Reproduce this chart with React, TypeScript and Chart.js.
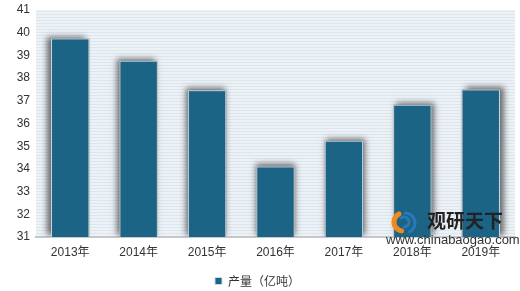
import React, { useEffect, useRef } from "react";
import { Chart, registerables } from "chart.js";

Chart.register(...registerables);

const categories = ["2013年", "2014年", "2015年", "2016年", "2017年", "2018年", "2019年"];
const production = [39.74, 38.76, 37.47, 34.11, 35.24, 36.83, 37.5];
const seriesName = "产量（亿吨）";
const yMin = 31;
const yMax = 41;
const yStep = 1;

const stripePlugin = {
  id: "stripes",
  beforeDraw(chart: any) {
    const { ctx, chartArea } = chart;
    if (!chartArea) return;
    const pc = document.createElement("canvas");
    pc.width = 1;
    pc.height = 3;
    const p = pc.getContext("2d")!;
    p.fillStyle = "#edf2f7";
    p.fillRect(0, 0, 1, 3);
    p.fillStyle = "#dde5ed";
    p.fillRect(0, 2, 1, 1);
    const pattern = ctx.createPattern(pc, "repeat");
    ctx.save();
    ctx.fillStyle = pattern;
    ctx.fillRect(chartArea.left, chartArea.top, chartArea.right - chartArea.left, chartArea.bottom - chartArea.top);
    ctx.restore();
  },
};

const shadowPlugin = {
  id: "barShadow",
  beforeDatasetsDraw(chart: any) {
    const { ctx, chartArea } = chart;
    const meta = chart.getDatasetMeta(0);
    const mid = (chartArea.left + chartArea.right) / 2;
    const half = (chartArea.right - chartArea.left) / 2;
    ctx.save();
    ctx.beginPath();
    ctx.rect(chartArea.left, chartArea.top - 10, chartArea.right - chartArea.left + 10, chartArea.bottom - chartArea.top + 10);
    ctx.clip();
    meta.data.forEach((bar: any) => {
      const w = bar.width;
      const off = ((bar.x - mid) / half) * 5;
      const bottom = Math.min(bar.base, chartArea.bottom);
      ctx.shadowColor = "rgba(60,60,60,0.75)";
      ctx.shadowBlur = 6;
      ctx.shadowOffsetX = off;
      ctx.shadowOffsetY = -2;
      ctx.fillStyle = "#9a9a9a";
      ctx.fillRect(bar.x - w / 2, bar.y, w, bottom - bar.y);
    });
    ctx.restore();
  },
};

const watermarkPlugin = {
  id: "watermark",
  afterDraw(chart: any) {
    const { ctx } = chart;
    ctx.save();
    const cx = 401, cy = 221;
    ctx.lineCap = "round";
    ctx.strokeStyle = "#f08a1c";
    ctx.lineWidth = 5;
    ctx.beginPath();
    ctx.arc(cx + 2, cy + 1, 9, Math.PI * 0.55, Math.PI * 1.35);
    ctx.stroke();
    ctx.strokeStyle = "#2a78b8";
    ctx.lineWidth = 3;
    ctx.beginPath();
    ctx.arc(cx + 4, cy + 2, 10, Math.PI * 1.5, Math.PI * 0.35);
    ctx.stroke();
    ctx.beginPath();
    ctx.arc(cx + 3, cy + 1, 5, Math.PI * 1.3, Math.PI * 0.5);
    ctx.stroke();
    ctx.fillStyle = "#222";
    ctx.font = "bold 19px 'Noto Sans CJK SC', sans-serif";
    ctx.textAlign = "left";
    ctx.textBaseline = "middle";
    ctx.fillText("观研天下", 427, 221);
    ctx.font = "13px 'Liberation Sans', Arial, sans-serif";
    ctx.fillStyle = "#333";
    ctx.fillText("www.chinabaogao.com", 386, 240);
    ctx.restore();
  },
};

export default function App() {
  const ref = useRef<HTMLCanvasElement>(null);
  useEffect(() => {
    const chart = new Chart(ref.current!, {
      type: "bar",
      data: {
        labels: categories,
        datasets: [
          {
            label: seriesName,
            data: production,
            backgroundColor: "#1b6485",
            borderColor: "#c9dbe6",
            borderWidth: 1,
            barPercentage: 0.56,
            categoryPercentage: 1,
          },
        ],
      },
      options: {
        animation: false,
        responsive: false,
        maintainAspectRatio: false,
        layout: { padding: { left: 0, right: 5, top: 10, bottom: -6 } },
        scales: {
          x: {
            grid: { display: false, drawTicks: false },
            border: { display: true, color: "#c4c8cc", width: 2 },
            ticks: {
              color: "#333",
              font: { size: 12, family: "'Liberation Sans', 'Noto Sans CJK SC', sans-serif" },
              padding: 8,
              maxRotation: 0,
            },
            afterFit(scale: any) {
              scale.height = 34;
            },
          },
          y: {
            min: yMin,
            max: yMax,
            grid: { display: false, drawTicks: false },
            border: { display: false },
            ticks: {
              stepSize: yStep,
              color: "#333",
              font: { size: 12, family: "'Liberation Sans', sans-serif" },
              padding: 6,
            },
            afterFit(scale: any) {
              scale.width = 36;
              scale.paddingTop = 0;
              scale.paddingBottom = 0;
            },
          },
        },
        plugins: {
          legend: {
            position: "bottom",
            labels: {
              boxWidth: 7,
              boxHeight: 7,
              color: "#333",
              padding: 4,
              font: { size: 12, family: "'Noto Sans CJK SC', sans-serif" },
            },
          },
          tooltip: { enabled: false },
        },
      },
      plugins: [stripePlugin, shadowPlugin, watermarkPlugin],
    });
    return () => chart.destroy();
  }, []);
  return (
    <div style={{ position: "fixed", left: 0, top: 0, width: 520, height: 291, background: "#fff" }}>
      <canvas ref={ref} width={520} height={291} style={{ width: 520, height: 291, display: "block" }} />
    </div>
  );
}
